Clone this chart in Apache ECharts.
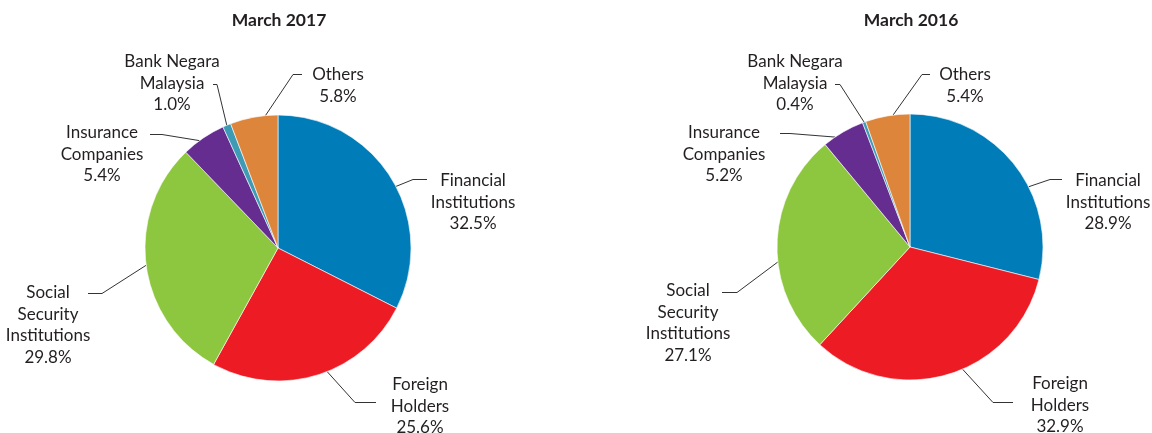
<!DOCTYPE html>
<html>
<head>
<meta charset="utf-8">
<script src="https://cdn.jsdelivr.net/npm/echarts@6/dist/echarts.min.js"></script>
<style>
  html, body { margin: 0; padding: 0; background: #ffffff; }
  #chart { width: 1152px; height: 433px; }
</style>
</head>
<body>
<div id="chart"></div>
<script>
// ---- data ----
const categories = ['Financial Institutions', 'Foreign Holders', 'Social Security Institutions', 'Insurance Companies', 'Bank Negara Malaysia', 'Others'];
const labelNames = ['Financial\nInstitutions', 'Foreign\nHolders', 'Social\nSecurity\nInstitutions', 'Insurance\nCompanies', 'Bank Negara\nMalaysia', 'Others'];
const values2017 = [32.5, 25.6, 29.8, 5.4, 1.0, 5.8];
const values2016 = [28.9, 32.9, 27.1, 5.2, 0.4, 5.4];
const titles = ['March 2017', 'March 2016'];

// ---- styling / layout ----
const colors = ['#007DB8', '#ED1C24', '#8DC63F', '#662D91', '#3E9BB6', '#DE853C'];
const textColor = '#231F20';
const fontFamily = 'Lato, "Open Sans", sans-serif';
const pieCenters = [[278, 248], [910, 247]];
const pieRadius = 133;
// per label: [labelCenterX, labelTopY, elbowX, elbowY, endX, endY]
const labelLayouts = [
  [
    [473, 170, 413, 179.5, 427, 179.5],
    [420, 374, 355, 402.5, 376, 402.5],
    [48, 282, 102, 293.5, 88, 293.5],
    [102, 122, 162, 134.5, 150, 134.5],
    [172, 51, 217, 84.5, 213, 84.5],
    [338, 64, 293, 74.5, 302, 74.5]
  ],
  [
    [1108, 170, 1050, 179.5, 1062, 179.5],
    [1060, 373, 993, 402.5, 1013, 402.5],
    [688, 280, 737, 292.5, 722, 292.5],
    [724, 122, 790, 133.5, 780, 133.5],
    [795, 51, 840, 84.5, 835, 84.5],
    [965, 64, 922, 74.5, 930, 74.5]
  ]
];
// rotation (degrees, clockwise) of each leader line's anchor on the pie edge
const anchorOffsets = [
  [4, -4.6, 0, -2, 0, 5],
  [11, -6.7, -8, -4, 0, 2.4]
];

function buildData(values) {
  return values.map((v, i) => ({
    name: categories[i],
    value: v,
    itemStyle: { color: colors[i] }
  }));
}

function buildSeries(values, idx) {
  const [cx, cy] = pieCenters[idx];
  return {
    type: 'pie',
    center: pieCenters[idx],
    radius: pieRadius,
    startAngle: 90,
    clockwise: true,
    avoidLabelOverlap: false,
    animation: false,
    silent: true,
    itemStyle: { borderColor: '#ffffff', borderWidth: 0.6 },
    label: {
      show: true,
      position: 'outside',
      color: textColor,
      fontFamily: fontFamily,
      fontSize: 17,
      lineHeight: 21.5,
      formatter: (p) => labelNames[p.dataIndex] + '\n' + p.value.toFixed(1) + '%'
    },
    labelLine: {
      show: true,
      length: 15,
      length2: 10,
      lineStyle: { color: '#333333', width: 1 }
    },
    labelLayout: (params) => {
      const L = labelLayouts[idx][params.dataIndex];
      let start = [L[2], L[3]];
      if (params.labelLinePoints) {
        const p0 = params.labelLinePoints[0];
        const dx = p0[0] - cx, dy = p0[1] - cy;
        const r = Math.sqrt(dx * dx + dy * dy);
        const a = Math.atan2(dx, -dy) + anchorOffsets[idx][params.dataIndex] * Math.PI / 180;
        start = [cx + r * Math.sin(a), cy - r * Math.cos(a)];
      }
      return {
        x: L[0],
        y: L[1],
        align: 'center',
        verticalAlign: 'top',
        labelLinePoints: [start, [L[2], L[3]], [L[4], L[5]]]
      };
    },
    data: buildData(values)
  };
}

const chart = echarts.init(document.getElementById('chart'), null, { renderer: 'canvas' });
chart.setOption({
  backgroundColor: '#ffffff',
  animation: false,
  graphic: titles.map((t, i) => ({
    type: 'text',
    x: pieCenters[i][0] + 1,
    y: 20,
    style: {
      text: t,
      align: 'center',
      verticalAlign: 'middle',
      fill: textColor,
      font: 'bold 17.5px ' + fontFamily
    }
  })),
  series: [buildSeries(values2017, 0), buildSeries(values2016, 1)]
});
</script>
</body>
</html>
